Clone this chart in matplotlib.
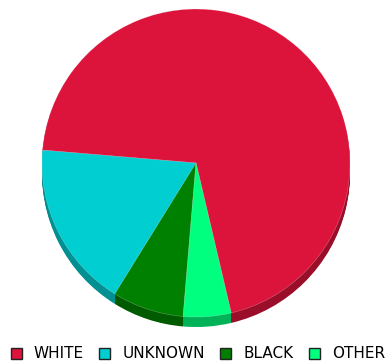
import matplotlib
matplotlib.use("Agg")
import matplotlib.pyplot as plt
from matplotlib.patches import Patch
from matplotlib.colors import to_rgb

# Counts per category
categories = ["WHITE", "UNKNOWN", "BLACK", "OTHER"]
counts = [28, 7, 3, 2]
colors = ["#DC143C", "#00CED1", "#008000", "#00FF7F"]

W, H = 390, 364
fig = plt.figure(figsize=(W / 100, H / 100), dpi=100)
ax = fig.add_axes([0, 0, 1, 1])

cx, cy = 196, H - 163
radius = 154
depth = 10
start = 283.2


def darker(c, f=0.7):
    r, g, b = to_rgb(c)
    return (r * f, g * f, b * f)


side_colors = [darker(c) for c in colors]

# extruded side of the pie: stacked copies shifted downward
for d in range(depth, 0, -1):
    ax.pie(counts, colors=side_colors, startangle=start, counterclock=True,
           center=(cx, cy - d), radius=radius,
           wedgeprops=dict(linewidth=0, antialiased=True))

# top face
wedges, _ = ax.pie(counts, colors=colors, startangle=start, counterclock=True,
                   center=(cx, cy), radius=radius,
                   wedgeprops=dict(linewidth=0.4, edgecolor=(1, 1, 1, 0.35)))

ax.set_xlim(0, W)
ax.set_ylim(0, H)
ax.set_aspect("auto")
ax.axis("off")

handles = [Patch(facecolor=c, edgecolor="#222222", linewidth=1.0) for c in colors]
fig.legend(handles, categories, loc="center", bbox_to_anchor=(198 / W, 1 - 354 / H),
           ncol=4, frameon=False, fontsize=11, handlelength=0.72, handleheight=0.72,
           handletextpad=0.8, columnspacing=1.0, borderpad=0, borderaxespad=0)

fig.savefig("out.png", dpi=100)
